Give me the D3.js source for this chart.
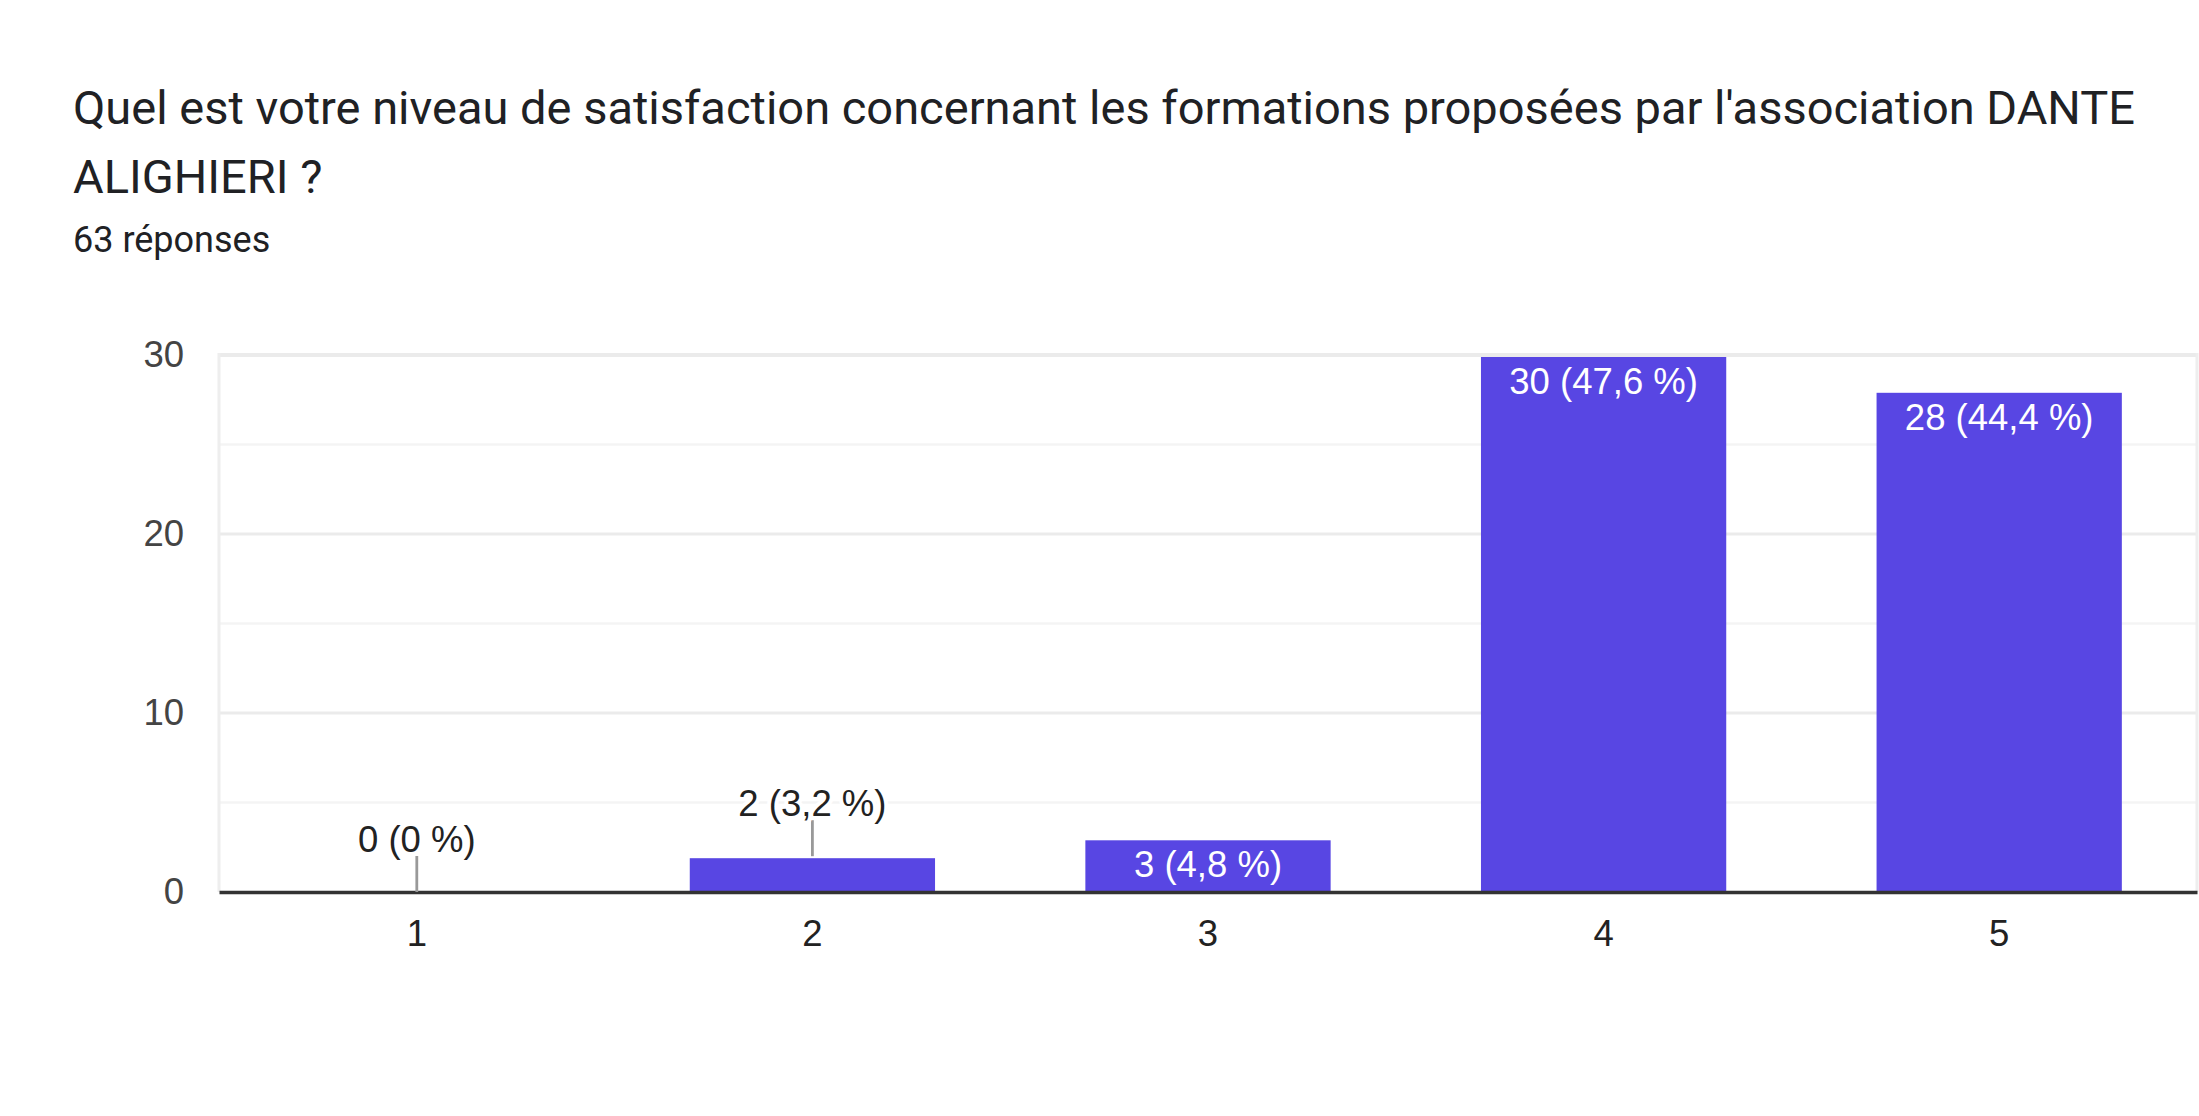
<!DOCTYPE html>
<html>
<head>
<meta charset="utf-8">
<script src="https://cdn.jsdelivr.net/npm/d3@7"></script>
<style>
  body { margin: 0; background: #fff; }
  .title { font-family: Roboto, "Noto Sans", sans-serif; fill: #202124; }
  .chart text { font-family: Arial, "Liberation Sans", sans-serif; }
</style>
</head>
<body>
<svg id="chart" width="2199" height="1116"></svg>
<script>
// values
var titleLines = ["Quel est votre niveau de satisfaction concernant les formations proposées par l'association DANTE", "ALIGHIERI ?"];
var subtitle = "63 réponses";
var categories = ["1", "2", "3", "4", "5"];
var counts = [0, 2, 3, 30, 28];
var percents = ["0 %", "3,2 %", "4,8 %", "47,6 %", "44,4 %"];
var majorTicks = [0, 10, 20, 30];
var minorTicks = [5, 15, 25];

var svg = d3.select("#chart");
var chartFont = 36.5;

// title block
svg.selectAll("text.title")
  .data(titleLines)
  .enter().append("text")
  .attr("class", "title")
  .attr("x", 73)
  .attr("y", (d, i) => 124 + i * 69)
  .attr("font-size", 47)
  .text(d => d);

svg.append("text")
  .attr("class", "title")
  .attr("x", 73)
  .attr("y", 252)
  .attr("font-size", 36)
  .text(subtitle);

var plot = { left: 219, right: 2197, top: 355, bottom: 892 };

var x = d3.scaleBand()
  .domain(categories)
  .range([plot.left, plot.right])
  .paddingInner(0.38)
  .paddingOuter(0.19);

var y = d3.scaleLinear()
  .domain([0, 30])
  .range([plot.bottom, plot.top]);

var g = svg.append("g").attr("class", "chart");

// minor gridlines
g.selectAll("line.minor")
  .data(minorTicks)
  .enter().append("line")
  .attr("x1", plot.left).attr("x2", plot.right)
  .attr("y1", d => y(d)).attr("y2", d => y(d))
  .attr("stroke", "#f4f4f4")
  .attr("stroke-width", 2.5);

// major gridlines
g.selectAll("line.major")
  .data(majorTicks.filter(d => d > 0))
  .enter().append("line")
  .attr("x1", plot.left).attr("x2", plot.right)
  .attr("y1", d => y(d)).attr("y2", d => y(d))
  .attr("stroke", "#ebebeb")
  .attr("stroke-width", d => d === 30 ? 4 : 2.8);

// plot border left and right
g.selectAll("line.border")
  .data([plot.left, plot.right])
  .enter().append("line")
  .attr("x1", d => d).attr("x2", d => d)
  .attr("y1", plot.top - 2).attr("y2", plot.bottom)
  .attr("stroke", "#eeeeee")
  .attr("stroke-width", 3);

// y axis labels
var yAxis = d3.axisLeft(y).tickValues(majorTicks).tickSize(0).tickPadding(35);
var ya = g.append("g")
  .attr("transform", "translate(" + plot.left + ",0)")
  .call(yAxis);
ya.select(".domain").remove();
ya.selectAll("text")
  .attr("font-size", chartFont)
  .attr("fill", "#444")
  .attr("font-family", "Arial, 'Liberation Sans', sans-serif");

// bars
var bars = categories.map((c, i) => ({ cat: c, n: counts[i], pct: percents[i] }));

g.selectAll("rect.bar")
  .data(bars.filter(d => d.n > 0))
  .enter().append("rect")
  .attr("x", d => x(d.cat))
  .attr("width", x.bandwidth())
  .attr("y", d => y(d.n) + 2)
  .attr("height", d => y(0) - y(d.n) - 2)
  .attr("fill", "#5846e3");

// x axis baseline and labels
var xAxis = d3.axisBottom(x).tickSize(0).tickPadding(28);
var xa = g.append("g")
  .attr("transform", "translate(0," + plot.bottom + ")")
  .call(xAxis);
xa.select(".domain")
  .attr("stroke", "#333")
  .attr("stroke-width", 3.5);
xa.selectAll("text")
  .attr("font-size", chartFont)
  .attr("fill", "#222")
  .attr("font-family", "Arial, 'Liberation Sans', sans-serif");

// value labels: inside when the bar is tall enough, else above with a leader line
var inside = d => (y(0) - y(d.n)) > 45;
var label = d => d.n + " (" + d.pct + ")";

g.selectAll("line.leader")
  .data(bars.filter(d => !inside(d)))
  .enter().append("line")
  .attr("x1", d => x(d.cat) + x.bandwidth() / 2)
  .attr("x2", d => x(d.cat) + x.bandwidth() / 2)
  .attr("y1", d => y(d.n))
  .attr("y2", d => y(d.n) - 36)
  .attr("stroke", "#999")
  .attr("stroke-width", 2.8);

g.selectAll("text.vlabel")
  .data(bars)
  .enter().append("text")
  .attr("class", "vlabel")
  .attr("x", d => x(d.cat) + x.bandwidth() / 2)
  .attr("y", d => inside(d) ? y(d.n) + 39 : y(d.n) - 40)
  .attr("text-anchor", "middle")
  .attr("font-size", chartFont)
  .attr("fill", d => inside(d) ? "#fff" : "#222")
  .attr("stroke", d => inside(d) ? "none" : "#fff")
  .attr("stroke-width", 8)
  .attr("paint-order", "stroke")
  .text(label);
</script>
</body>
</html>
